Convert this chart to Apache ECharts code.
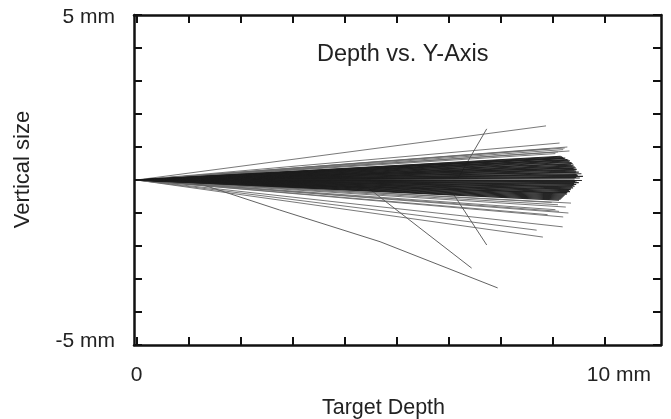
<!DOCTYPE html>
<html>
<head>
<meta charset="utf-8">
<script src="https://cdn.jsdelivr.net/npm/echarts@6/dist/echarts.min.js"></script>
<style>
html,body{margin:0;padding:0;background:#fff;overflow:hidden;}
#chart{width:671px;height:419px;}
</style>
</head>
<body>
<div id="chart"></div>
<script>
// ---- data (mm) ----
var titleText = 'Depth vs. Y-Axis';
var xAxisName = 'Target Depth';
var yAxisName = 'Vertical size';
var xTickValues = [0, 1, 2, 3, 4, 5, 6, 7, 8, 9];
var xLabelValues = [0, 10];
var xLabelTexts = ['0', '10 mm'];
var yLabelValues = [-5, 5];
var yLabelTexts = ['-5 mm', '5 mm'];

// dense core tracks: end points (depth, vertical)
var coreEndX = [8.15, 8.18, 8.20, 8.24, 8.22, 8.28, 8.30, 8.33, 8.31, 8.36, 8.38, 8.35, 8.40, 8.38, 8.42, 8.44, 8.40, 8.46, 8.42, 8.45,
                8.50, 8.44, 8.55, 8.46, 8.48, 8.58, 8.45, 8.52, 8.42, 8.56, 8.46, 8.43, 8.50, 8.41, 8.45, 8.40, 8.42, 8.37, 8.39, 8.35,
                8.34, 8.31, 8.33, 8.28, 8.26, 8.27, 8.23, 8.21, 8.19, 8.17, 8.15, 8.12];
var coreEndY = [0.72, 0.70, 0.68, 0.66, 0.65, 0.62, 0.60, 0.58, 0.55, 0.53, 0.50, 0.48, 0.45, 0.42, 0.40, 0.37, 0.35, 0.32, 0.30, 0.27,
                0.24, 0.22, 0.19, 0.16, 0.14, 0.11, 0.08, 0.06, 0.03, 0.00, -0.03, -0.05, -0.08, -0.11, -0.13, -0.16, -0.19, -0.21, -0.24, -0.27,
                -0.29, -0.32, -0.35, -0.38, -0.40, -0.43, -0.46, -0.49, -0.52, -0.55, -0.58, -0.61];

// sparse straight tracks around the core
var sparseEndX = [8.10, 8.20, 8.05, 8.28, 8.13, 7.95, 8.32, 8.23, 7.87,
                  8.10, 8.25, 8.05, 8.30, 7.90, 8.20, 7.98, 8.19, 7.81, 7.69, 8.35, 8.12];
var sparseEndY = [0.85, 0.92, 0.80, 1.00, 1.12, 0.95, 0.88, 0.97, 1.64,
                  -0.75, -0.82, -0.90, -1.00, -1.05, -1.12, -0.68, -1.42, -1.73, -1.52, -0.70, -0.95];

// deflected tracks (polylines)
var bentTrackA = [[0, 0], [6.18, 0.06], [6.73, 1.55]];
var bentTrackB = [[0, 0], [6.10, -0.45], [6.73, -1.97]];
var bentTrackC = [[0, 0], [4.45, -0.24], [6.44, -2.67]];
var bentTrackD = [[0, 0], [1.28, -0.15], [2.75, -0.91], [4.68, -1.87], [6.94, -3.27]];

var chart = echarts.init(document.getElementById('chart'), null, {renderer: 'canvas', width: 671, height: 419});

function straight(xs, ys) {
  var out = [];
  for (var i = 0; i < xs.length; i++) out.push({coords: [[0, 0], [xs[i], ys[i]]]});
  return out;
}

var fontFam = 'Liberation Sans, Arial, sans-serif';
var axisLineStyle = {color: '#111', width: 2.5};
var tickStyle = {color: '#111', width: 2};

var option = {
  backgroundColor: '#fff',
  animation: false,
  title: {
    text: titleText,
    left: 312, top: 38,
    textStyle: {fontFamily: fontFam, fontSize: 23.5, fontWeight: 'normal', color: '#222'}
  },
  grid: {left: 134, width: 527, top: 15, height: 330, containLabel: false, outerBoundsMode: 'none'},
  xAxis: [{
    type: 'value', min: -0.05, max: 10.08, position: 'bottom',
    axisLine: {show: true, onZero: false, lineStyle: axisLineStyle},
    axisTick: {show: true, inside: true, length: 8, lineStyle: tickStyle, customValues: xTickValues},
    axisLabel: {
      show: true, margin: 20, customValues: xLabelValues,
      fontFamily: fontFam, fontSize: 21, color: '#222',
      formatter: function (v) {
        var i = xLabelValues.indexOf(Math.round(v));
        return i === 1 ? '{r|' + xLabelTexts[i] + '}' : xLabelTexts[i];
      },
      rich: {r: {fontFamily: fontFam, fontSize: 21, color: '#222', padding: [0, 76, 0, 0]}}
    },
    splitLine: {show: false},
    name: xAxisName, nameLocation: 'middle', nameGap: 52,
    nameTextStyle: {fontFamily: fontFam, fontSize: 21.5, color: '#222', padding: [0, 28, 0, 0]}
  }, {
    type: 'value', min: -0.05, max: 10.08, position: 'top',
    axisLine: {show: true, onZero: false, lineStyle: axisLineStyle},
    axisTick: {show: true, inside: true, length: 8, lineStyle: tickStyle, customValues: xTickValues},
    axisLabel: {show: false}, splitLine: {show: false}
  }],
  yAxis: [{
    type: 'value', min: -5, max: 5, interval: 1, position: 'left',
    axisLine: {show: true, onZero: false, lineStyle: axisLineStyle},
    axisTick: {show: true, inside: true, length: 8, lineStyle: tickStyle},
    axisLabel: {
      show: true, margin: 19, customValues: yLabelValues,
      fontFamily: fontFam, fontSize: 21, color: '#222',
      formatter: function (v) {
        var i = yLabelValues.indexOf(Math.round(v));
        return i === 1 ? '{t|' + yLabelTexts[i] + '}' : '{b|' + yLabelTexts[i] + '}';
      },
      rich: {
        t: {fontFamily: fontFam, fontSize: 21, color: '#222', padding: [5, 0, 0, 0]},
        b: {fontFamily: fontFam, fontSize: 21, color: '#222', padding: [0, 0, 8, 0]}
      }
    },
    splitLine: {show: false},
    name: yAxisName, nameLocation: 'middle', nameGap: 100, nameRotate: 90,
    nameTextStyle: {fontFamily: fontFam, fontSize: 22, color: '#222', padding: [0, 0, 0, 21]}
  }, {
    type: 'value', min: -5, max: 5, interval: 1, position: 'right',
    axisLine: {show: true, onZero: false, lineStyle: axisLineStyle},
    axisTick: {show: true, inside: true, length: 8, lineStyle: tickStyle},
    axisLabel: {show: false}, splitLine: {show: false}
  }],
  series: [{
    type: 'lines', coordinateSystem: 'cartesian2d', polyline: false, silent: true,
    lineStyle: {color: '#6a6a6a', width: 1, opacity: 0.9},
    data: straight(sparseEndX, sparseEndY)
  }, {
    type: 'lines', coordinateSystem: 'cartesian2d', polyline: true, silent: true,
    lineStyle: {color: '#5a5a5a', width: 1, opacity: 0.95},
    data: [{coords: bentTrackA}, {coords: bentTrackB}, {coords: bentTrackC}, {coords: bentTrackD}]
  }, {
    type: 'lines', coordinateSystem: 'cartesian2d', polyline: false, silent: true,
    lineStyle: {color: '#1e1e1e', width: 1.2, opacity: 0.95},
    data: straight(coreEndX, coreEndY)
  }]
};
chart.setOption(option);
</script>
</body>
</html>
